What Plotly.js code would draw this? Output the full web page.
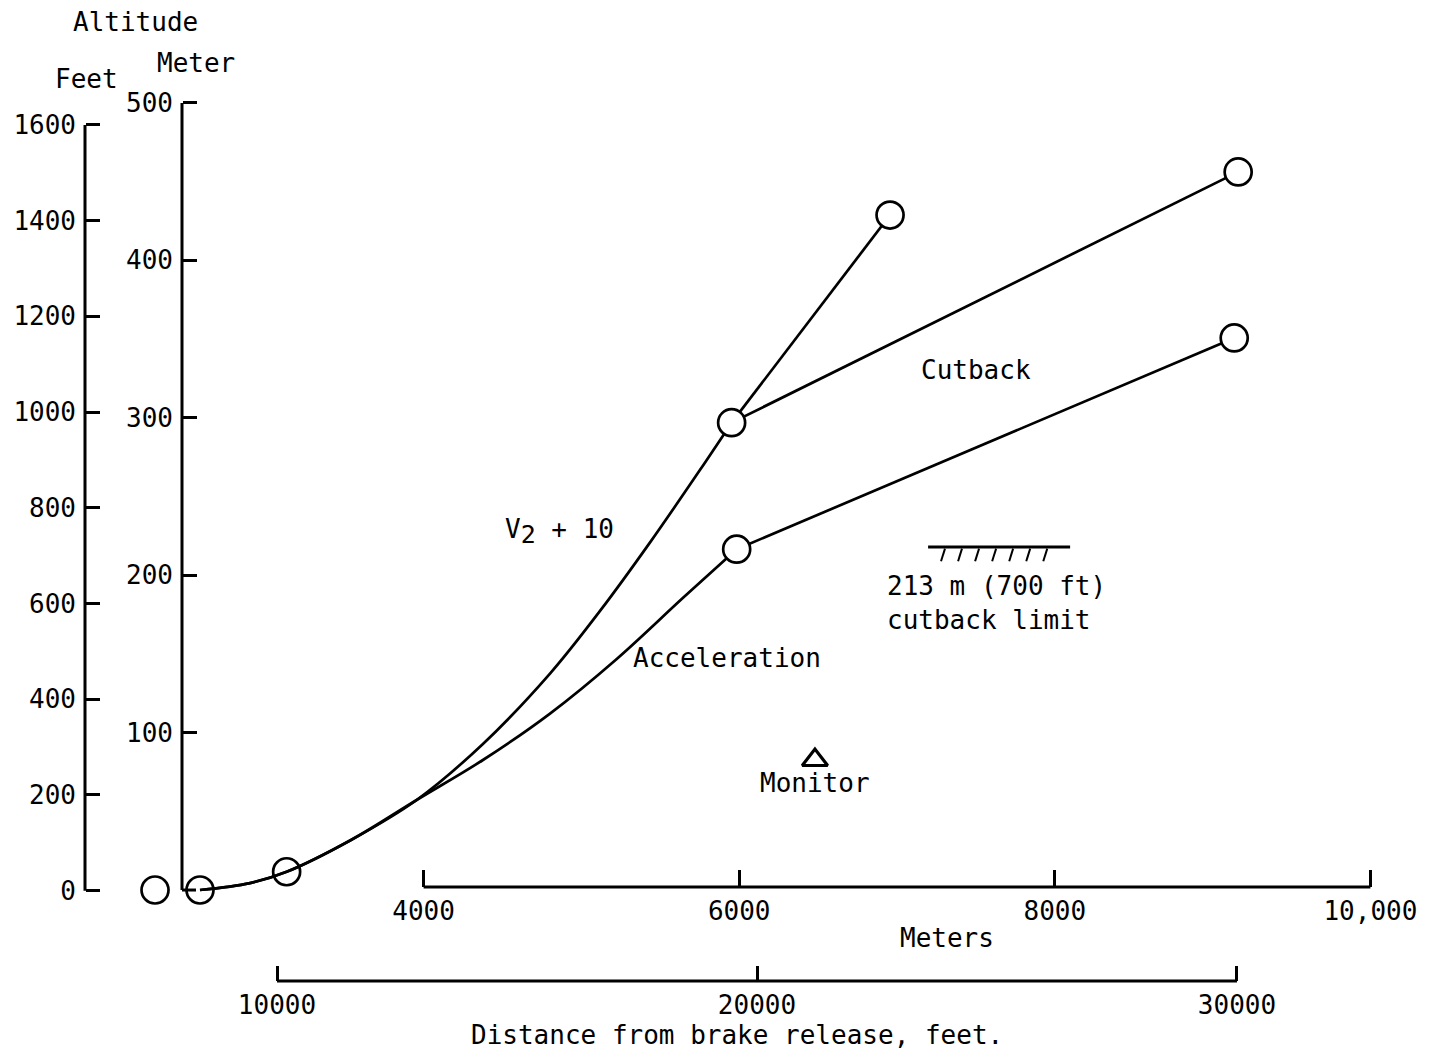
<!DOCTYPE html>
<html>
<head>
<meta charset="utf-8">
<script src="https://cdn.plot.ly/plotly-3.0.1.min.js"></script>
<style>
  html, body { margin: 0; padding: 0; background: #fff; }
  #chart { width: 1436px; height: 1052px; }
</style>
</head>
<body>
<div id="chart"></div>
<script>
// ---------------- data (distance in meters, altitude in meters) ----------------
const meterTicks = [4000, 6000, 8000, 10000];
const meterTickText = ['4000', '6000', '8000', '10,000'];
const feetTicks = [10000, 20000, 30000];
const feetTickText = ['10000', '20000', '30000'];
const altMeterTicks = [0, 100, 200, 300, 400, 500];
const altMeterLabelTicks = [100, 200, 300, 400, 500];
const altFeetTicks = [0, 200, 400, 600, 800, 1000, 1200, 1400, 1600];

// common initial climb (shared by both procedures)
const commonDist = [2583, 2900, 3132, 3540, 3956];
const commonAlt  = [0, 4.4, 11.6, 31.8, 57.2];

// V2 + 10 climb (curved part)
const v2Dist = [4376, 4801, 5118, 5434, 5751, 5952];
const v2Alt  = [92.8, 137.5, 177.3, 220.7, 266.8, 296.9];

// Acceleration climb (curved part)
const accelDist = [4376, 4801, 5224, 5646, 5984];
const accelAlt  = [82.6, 112.1, 146.8, 185.8, 216.5];

// straight segments after the break points
const v2ContDist = [5952, 6956];
const v2ContAlt  = [296.9, 428.8];
const cutbackDist = [5952, 9162];
const cutbackAlt  = [296.9, 456.2];
const accelContDist = [5984, 9137];
const accelContAlt  = [216.5, 350.7];

// circled points
const openPointDist = [2298, 2583, 3132];
const openPointAlt  = [0, 0, 11.6];
const endPointDist = [5952, 6956, 9162, 5984, 9137];
const endPointAlt  = [296.9, 428.8, 456.2, 216.5, 350.7];

// monitor station
const monitorDist = [6480];
const monitorAlt  = [82.6];

// 213 m (700 ft) cutback limit, as drawn
const cutbackLimitDist = [7197, 8097];
const cutbackLimitAlt = 217.9;
const hatchStartDist = 7304;
const hatchStep = 108;
const hatchCount = 7;

// ---------------- build ----------------
const FONT = 'DejaVu Sans Mono, Liberation Mono, monospace';
const BLACK = '#000';

const traces = [];
const curveCommon = {mode: 'lines', hoverinfo: 'skip', showlegend: false,
  line: {color: BLACK, width: 2.7, shape: 'spline', smoothing: 1}};
traces.push(Object.assign({}, curveCommon, {
  x: commonDist.concat(v2Dist), y: commonAlt.concat(v2Alt)}));
traces.push(Object.assign({}, curveCommon, {
  x: commonDist.concat(accelDist), y: commonAlt.concat(accelAlt)}));

const straight = {mode: 'lines', hoverinfo: 'skip', showlegend: false,
  line: {color: BLACK, width: 2.7}};
traces.push(Object.assign({}, straight, {x: v2ContDist, y: v2ContAlt}));
traces.push(Object.assign({}, straight, {x: cutbackDist, y: cutbackAlt}));
traces.push(Object.assign({}, straight, {x: accelContDist, y: accelContAlt}));

// cutback limit line with hatching
traces.push(Object.assign({}, straight, {
  x: cutbackLimitDist, y: [cutbackLimitAlt, cutbackLimitAlt], line: {color: BLACK, width: 3}}));
const hx = [], hy = [];
for (let i = 0; i < hatchCount; i++) {
  const d = hatchStartDist + i * hatchStep;
  hx.push(d, d - 25, null);
  hy.push(cutbackLimitAlt - 1, cutbackLimitAlt - 9, null);
}
traces.push(Object.assign({}, straight, {x: hx, y: hy, line: {color: BLACK, width: 2}}));

// markers
traces.push({x: openPointDist, y: openPointAlt, mode: 'markers', hoverinfo: 'skip',
  showlegend: false, cliponaxis: false,
  marker: {symbol: 'circle-open', size: 27, color: BLACK, line: {width: 2.7, color: BLACK}}});
traces.push({x: endPointDist, y: endPointAlt, mode: 'markers', hoverinfo: 'skip',
  showlegend: false, cliponaxis: false,
  marker: {symbol: 'circle', size: 27, color: '#fff', line: {width: 2.7, color: BLACK}}});
traces.push({x: monitorDist, y: monitorAlt, mode: 'markers', hoverinfo: 'skip',
  showlegend: false,
  marker: {symbol: 'triangle-up-open', size: 22, color: BLACK, line: {width: 3.2, color: BLACK}}});

// invisible anchor trace so the feet axes are drawn
traces.push({x: [feetTicks[0]], y: [altFeetTicks[0]], xaxis: 'x2', yaxis: 'y2',
  mode: 'markers', marker: {opacity: 0}, hoverinfo: 'skip', showlegend: false});

const W = 1436, H = 1052;
const meterAxisY = (H - 887) / H;
const feetAxisY = (H - 981) / H;
const meterAltX = 182 / W;
const feetAltX = 85 / W;
const yTickLen = 14;

const axisCommon = {
  showgrid: false, zeroline: false, showline: false,
  ticks: 'inside', tickwidth: 3, tickcolor: BLACK,
  tickfont: {family: FONT, size: 26, color: BLACK},
  automargin: false, fixedrange: true
};

function note(text, xref, yref, x, y, extra) {
  return Object.assign({text: text, xref: xref, yref: yref, x: x, y: y,
    xanchor: 'center', yanchor: 'middle', showarrow: false}, extra || {});
}

const layout = {
  width: W, height: H,
  margin: {l: 0, r: 0, t: 0, b: 0, pad: 0, autoexpand: false},
  paper_bgcolor: '#fff', plot_bgcolor: 'rgba(0,0,0,0)',
  showlegend: false,
  font: {family: FONT, size: 26, color: BLACK},
  xaxis: Object.assign({}, axisCommon, {
    range: [1315.6, 10415.7], anchor: 'free', position: meterAxisY, side: 'bottom',
    tickmode: 'array', tickvals: meterTicks, ticktext: meterTickText,
    ticklen: 17, ticklabelstandoff: 6}),
  xaxis2: Object.assign({}, axisCommon, {
    range: [4229, 34146], overlaying: 'x', anchor: 'free', position: feetAxisY, side: 'bottom',
    tickmode: 'array', tickvals: feetTicks, ticktext: feetTickText,
    ticklen: 15, ticklabelstandoff: 6}),
  yaxis: Object.assign({}, axisCommon, {
    range: [-102.9, 565.4], anchor: 'free', position: meterAltX, side: 'left',
    tickmode: 'array', tickvals: altMeterLabelTicks,
    ticklen: yTickLen, ticklabelstandoff: 9}),
  yaxis2: Object.assign({}, axisCommon, {
    range: [-337, 1861], overlaying: 'y', anchor: 'free', position: feetAltX, side: 'left',
    tickmode: 'array', tickvals: altFeetTicks,
    ticklen: yTickLen, ticklabelstandoff: 9}),
  shapes: [
    {type: 'line', xref: 'x', yref: 'paper', x0: meterTicks[0], x1: meterTicks[meterTicks.length - 1],
      y0: meterAxisY, y1: meterAxisY, line: {color: BLACK, width: 3}},
    {type: 'line', xref: 'x2', yref: 'paper', x0: feetTicks[0], x1: feetTicks[feetTicks.length - 1],
      y0: feetAxisY, y1: feetAxisY, line: {color: BLACK, width: 3}},
    {type: 'line', xref: 'paper', yref: 'y', x0: meterAltX, x1: meterAltX,
      y0: altMeterTicks[0], y1: altMeterTicks[altMeterTicks.length - 1], line: {color: BLACK, width: 3}},
    // unlabelled zero tick of the meter altitude scale
    {type: 'line', xref: 'paper', yref: 'y', x0: meterAltX, x1: meterAltX + yTickLen / W,
      y0: altMeterTicks[0], y1: altMeterTicks[0], line: {color: BLACK, width: 3}},
    {type: 'line', xref: 'paper', yref: 'y2', x0: feetAltX, x1: feetAltX,
      y0: altFeetTicks[0], y1: altFeetTicks[altFeetTicks.length - 1], line: {color: BLACK, width: 3}}
  ],
  annotations: [
    note('Altitude', 'paper', 'paper', 135 / W, 1 - 22 / H),
    note('Feet', 'paper', 'paper', 86 / W, 1 - 79 / H),
    note('Meter', 'paper', 'paper', 196 / W, 1 - 63 / H),
    note('Meters', 'paper', 'paper', 947 / W, 1 - 938 / H),
    note('Distance from brake release, feet.', 'paper', 'paper', 737 / W, 1 - 1035 / H),
    note('V<sub><span style="font-size:25px">2</span></sub> + 10', 'x', 'y', 4864, 228),
    note('Cutback', 'x', 'y', 7501, 330.4),
    note('Acceleration', 'x', 'y', 5923, 147.4),
    note('Monitor', 'x', 'y', 6480, 68),
    note('213 m (700 ft)<br>cutback limit', 'x', 'y', 6923, 182.5, {xanchor: 'left', align: 'left'})
  ]
};

Plotly.newPlot('chart', traces, layout, {staticPlot: true, displayModeBar: false});
</script>
</body>
</html>
